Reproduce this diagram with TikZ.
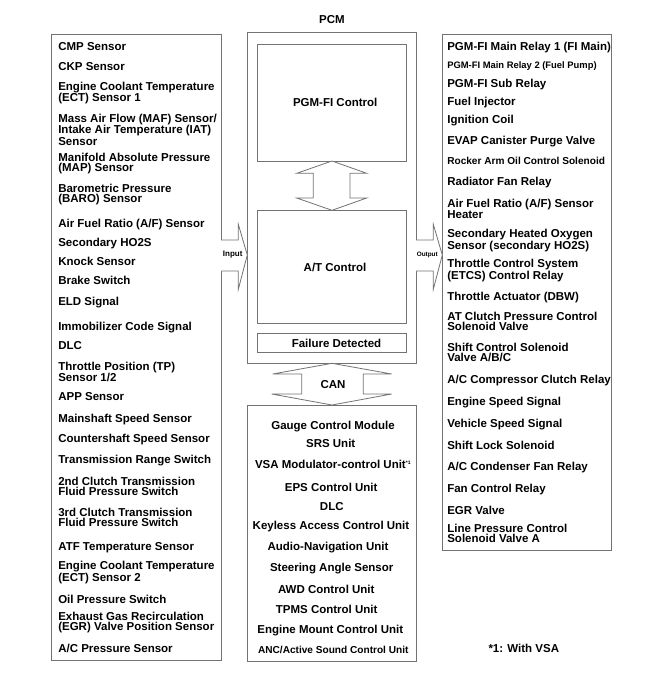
\documentclass[tikz,border=0pt]{standalone}
\usepackage{fontspec}
\setmainfont{Liberation Sans}
\definecolor{boxc}{rgb}{0.45,0.45,0.45}
\begin{document}
\begin{tikzpicture}[x=1pt,y=-1pt,
  every node/.style={inner sep=0pt, outer sep=0pt, font=\fontsize{11.5}{10}\selectfont\bfseries},
  lbl/.style={anchor=north west, align=left, execute at begin node={\rule{0pt}{9pt}}},
  clbl/.style={anchor=north, align=center, execute at begin node={\rule{0pt}{9pt}}},
  box/.style={draw=boxc, line width=1pt, anchor=north west},
  blk/.style={draw=boxc, line width=0.8pt, fill=white, line join=miter},
  smallA/.style={font=\fontsize{9.4}{10}\selectfont\bfseries},
  smallB/.style={font=\fontsize{10.1}{10}\selectfont\bfseries}]
\useasboundingbox (0,0) rectangle (658,681);

% main boxes
\node[box, minimum width=169.3pt, minimum height=625.3pt] (inbox) at (51.7,34.7) {};
\node[box, minimum width=168.7pt, minimum height=331pt] (pcm) at (247.3,32.3) {};
\node[box, minimum width=148.7pt, minimum height=116.7pt] (pgmfi) at (257.3,44.3) {};
\node[box, minimum width=148.7pt, minimum height=112.7pt] (atc) at (257.3,210.3) {};
\node[box, minimum width=148.7pt, minimum height=18.6pt] (fail) at (257.3,333.7) {};
\node[box, minimum width=169pt, minimum height=256.7pt] (canbox) at (247.7,405) {};
\node[box, minimum width=169.4pt, minimum height=516.4pt] (outbox) at (442.3,34.3) {};

\node (pcmlbl) at (332,20) {PCM};
\node (pgmlbl) at (335.2,102.7) {PGM-FI Control};
\node (atlbl) at (335,267.3) {A/T Control};
\node (faillbl) at (336.5,343.3) {Failure Detected};

% block arrows
\draw[blk] (332,161) -- (296.7,173.3) -- (313.3,173.3) -- (313.3,198) -- (296.7,198)
  -- (332,210.3) -- (366.7,198) -- (350,198) -- (350,173.3) -- (366.7,173.3) -- cycle;
\draw[blk] (332,363.3) -- (272.7,374) -- (301.7,374) -- (301.7,394) -- (271.7,394)
  -- (332,405) -- (391.7,394) -- (363.3,394) -- (363.3,374) -- (391.7,374) -- cycle;
\node (canlbl) at (333,385) {CAN};
\draw[blk] (221,240) -- (238.3,240) -- (238.3,224.3) -- (247.3,255) -- (238.3,289.3) -- (238.3,271) -- (221,271);
\draw[blk] (416,240) -- (433.3,240) -- (433.3,224.3) -- (442.3,255) -- (433.3,289.3) -- (433.3,271) -- (416,271);
\node[font=\fontsize{8}{8}\selectfont\bfseries] (inlbl) at (232.7,255) {Input};
\node[font=\fontsize{6.4}{8}\selectfont\bfseries] (outlbl) at (427.3,255) {Output};

% inputs
\foreach \y/\t [count=\i] in {
  46.7/CMP Sensor,
  66.7/CKP Sensor,
  86.7/{Engine Coolant Temperature\\(ECT) Sensor 1},
  118.7/{Mass Air Flow (MAF) Sensor/\\Intake Air Temperature (IAT)\\Sensor},
  158.3/{Manifold Absolute Pressure\\(MAP) Sensor},
  189.3/{Barometric Pressure\\(BARO) Sensor},
  223.3/{Air Fuel Ratio (A/F) Sensor},
  242/Secondary HO2S,
  261.3/Knock Sensor,
  280/Brake Switch,
  301.3/ELD Signal,
  326/Immobilizer Code Signal,
  345.3/DLC,
  366.7/{Throttle Position (TP)\\Sensor 1/2},
  396/APP Sensor,
  418.3/Mainshaft Speed Sensor,
  438.3/Countershaft Speed Sensor,
  459/Transmission Range Switch,
  482.3/{2nd Clutch Transmission\\Fluid Pressure Switch},
  513.3/{3rd Clutch Transmission\\Fluid Pressure Switch},
  546.7/ATF Temperature Sensor,
  566/{Engine Coolant Temperature\\(ECT) Sensor 2},
  599/Oil Pressure Switch,
  617.3/{Exhaust Gas Recirculation\\(EGR) Valve Position Sensor},
  648.3/{A/C Pressure Sensor}}
  \node[lbl] (in\i) at (58.3,\y-5) {\t};

% outputs
\foreach \y/\t [count=\i] in {
  46/PGM-FI Main Relay 1 (FI Main),
  83.3/PGM-FI Sub Relay,
  101/Fuel Injector,
  119.3/Ignition Coil,
  140/EVAP Canister Purge Valve,
  181.7/Radiator Fan Relay,
  204/{Air Fuel Ratio (A/F) Sensor\\Heater},
  234/{Secondary Heated Oxygen\\Sensor (secondary HO2S)},
  264.3/{Throttle Control System\\(ETCS) Control Relay},
  296/Throttle Actuator (DBW),
  317.3/{AT Clutch Pressure Control\\Solenoid Valve},
  348.3/{Shift Control Solenoid\\Valve A/B/C},
  379.3/{A/C Compressor Clutch Relay},
  401.7/Engine Speed Signal,
  423.3/Vehicle Speed Signal,
  445/Shift Lock Solenoid,
  466.7/{A/C Condenser Fan Relay},
  488.3/Fan Control Relay,
  510/EGR Valve,
  529.3/{Line Pressure Control\\Solenoid Valve A}}
  \node[lbl] (out\i) at (447.3,\y-5) {\t};
\node[lbl, smallA] (outA) at (447.3,64.3-5) {PGM-FI Main Relay 2 (Fuel Pump)};
\node[lbl, smallB] (outB) at (447.3,160.7-5) {Rocker Arm Oil Control Solenoid};

% CAN units
\foreach \x/\y/\t [count=\i] in {
  333/425/Gauge Control Module,
  330.7/443.3/SRS Unit,
  331.2/487.3/EPS Control Unit,
  331.8/506/DLC,
  331/525/Keyless Access Control Unit,
  328/546/Audio-Navigation Unit,
  331.7/567/Steering Angle Sensor,
  326.3/589/AWD Control Unit,
  326.7/609/TPMS Control Unit,
  330.3/629.3/Engine Mount Control Unit}
  \node[clbl] (can\i) at (\x,\y-5) {\t};
\node[clbl] (canvsa) at (332.8,464-5) {VSA Modulator-control Unit{\fontsize{5}{5}\selectfont\raisebox{3.5pt}{*1}}};
\node[clbl, smallB] (cananc) at (333.3,649.3-5) {ANC/Active Sound Control Unit};

\node[clbl] (note) at (523.8,648.3-5) {*1: With VSA};
\end{tikzpicture}
\end{document}
